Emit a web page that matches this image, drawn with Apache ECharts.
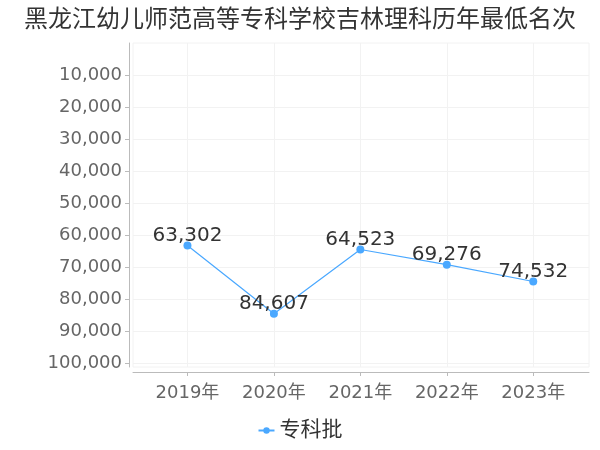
<!DOCTYPE html>
<html>
<head>
<meta charset="utf-8">
<script src="https://cdn.jsdelivr.net/npm/echarts@6/dist/echarts.min.js"></script>
<style>html,body{margin:0;padding:0;background:#fff}#c{width:600px;height:450px}</style>
</head>
<body>
<div id="c"></div>
<script>
var titleText = '黑龙江幼儿师范高等专科学校吉林理科历年最低名次';
var seriesName = '专科批';
var years = ['2019年', '2020年', '2021年', '2022年', '2023年'];
var values = [63302, 84607, 64523, 69276, 74532];
var yTicks = [10000, 20000, 30000, 40000, 50000, 60000, 70000, 80000, 90000, 100000];
var xTicks = [0, 1, 2, 3, 4];

function fmt(v) { return String(v).replace(/\B(?=(\d{3})+(?!\d))/g, ','); }

var FONT = '"DejaVu Sans", "Noto Sans CJK SC", sans-serif';
var chart = echarts.init(document.getElementById('c'));
chart.setOption({
  animation: false,
  backgroundColor: '#fff',
  textStyle: { fontFamily: FONT },
  title: {
    text: titleText, left: 'center', top: 4,
    textStyle: { fontSize: 24, fontWeight: 'normal', color: '#333', fontFamily: FONT }
  },
  legend: {
    bottom: 4, left: 'center',
    itemWidth: 16, itemHeight: 8,
    textStyle: { fontSize: 21, color: '#333', fontFamily: FONT },
    data: [seriesName]
  },
  grid: {
    left: 133, right: 11, top: 43, bottom: 83,
    show: true, borderColor: '#f2f2f2', borderWidth: 1
  },
  xAxis: {
    type: 'value', min: -0.63, max: 4.645, offset: 5,
    axisLine: { show: true, onZero: false, lineStyle: { color: '#bbb' } },
    axisTick: { show: true, customValues: xTicks, length: 4, lineStyle: { color: '#bbb' } },
    axisLabel: {
      customValues: xTicks, fontSize: 18, color: '#666', margin: 12, fontFamily: FONT,
      formatter: function (v) { return years[Math.round(v)] || ''; }
    },
    splitLine: { show: true, lineStyle: { color: '#f2f2f2' } }
  },
  yAxis: {
    type: 'value', inverse: true, min: 0, max: 101250, offset: 4,
    axisLine: { show: true, onZero: false, lineStyle: { color: '#bbb' } },
    axisTick: { show: true, customValues: yTicks, length: 4, lineStyle: { color: '#bbb' } },
    axisLabel: { customValues: yTicks, fontSize: 18, color: '#666', margin: 7, fontFamily: FONT, formatter: fmt },
    splitLine: { show: true, lineStyle: { color: '#f2f2f2' } }
  },
  series: [{
    name: seriesName, type: 'line',
    data: values.map(function (v, i) { return [i, v]; }),
    symbol: 'circle', symbolSize: 8,
    itemStyle: { color: '#4aa8ff' },
    lineStyle: { color: '#4aa8ff', width: 1.2 },
    label: {
      show: true, position: 'top', distance: -4,
      fontSize: 20, color: '#333', fontFamily: FONT,
      formatter: function (p) { return fmt(p.value[1]); }
    }
  }]
});
</script>
</body>
</html>
